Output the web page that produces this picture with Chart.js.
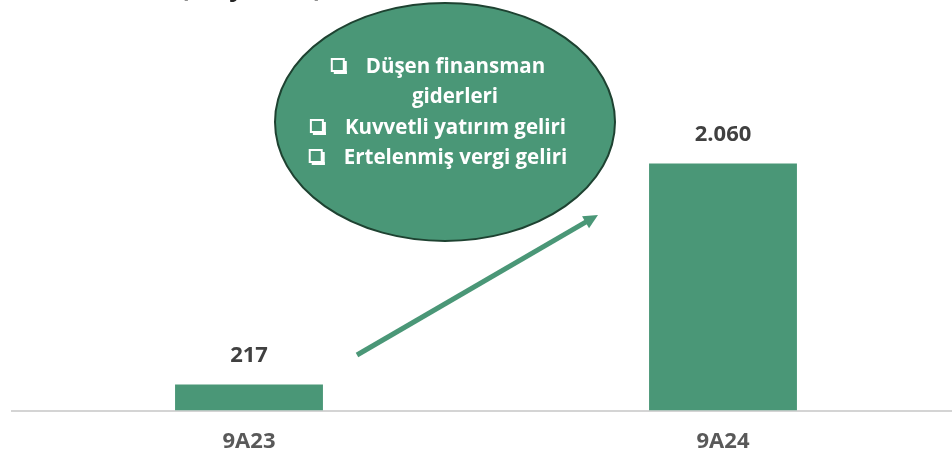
<!DOCTYPE html>
<html>
<head>
<meta charset="utf-8">
<script src="https://cdn.jsdelivr.net/npm/chart.js@4.4.1/dist/chart.umd.min.js"></script>
<style>
  html, body { margin: 0; padding: 0; background: #ffffff; overflow: hidden; width: 952px; height: 465px; }
  canvas { display: block; }
</style>
</head>
<body>
<canvas id="c" width="960" height="465" style="width:960px;height:465px"></canvas>
<script>
const categories = ['9A23', '9A24'];
const netProfit = [217, 2060];
const valueLabels = ['217', '2.060'];
const titleText = '(Milyon TL)';
const bubbleLines = [
  { box: true, text: 'Düşen finansman' },
  { box: false, text: 'giderleri' },
  { box: true, text: 'Kuvvetli yatırım geliri' },
  { box: true, text: 'Ertelenmiş vergi geliri' }
];

const GREEN = '#4a9777';
const FONT = '"Open Sans", "Liberation Sans", sans-serif';

const overlay = {
  id: 'overlay',
  afterDatasetsDraw(chart) {
    const ctx = chart.ctx;
    const meta = chart.getDatasetMeta(0);
    // value labels
    ctx.save();
    ctx.fillStyle = '#404040';
    ctx.font = 'bold 22px ' + FONT;
    ctx.textAlign = 'center';
    ctx.textBaseline = 'middle';
    meta.data.forEach((bar, i) => {
      ctx.fillText(valueLabels[i], bar.x, bar.y - 29);
    });
    ctx.restore();

    // title (cut off at top)
    ctx.save();
    ctx.fillStyle = '#262626';
    ctx.font = 'bold 26px ' + FONT;
    ctx.textAlign = 'left';
    ctx.textBaseline = 'alphabetic';
    ctx.fillText(titleText, 180, -4.5);
    ctx.restore();

    // arrow
    const x1 = 357, y1 = 355, x2 = 598, y2 = 215;
    ctx.save();
    ctx.strokeStyle = GREEN;
    ctx.fillStyle = GREEN;
    ctx.lineWidth = 5;
    const ang = Math.atan2(y2 - y1, x2 - x1);
    const headLen = 16;
    const ex = x2 - headLen * 0.8 * Math.cos(ang), ey = y2 - headLen * 0.8 * Math.sin(ang);
    ctx.beginPath();
    ctx.moveTo(x1, y1);
    ctx.lineTo(ex, ey);
    ctx.stroke();
    ctx.beginPath();
    ctx.moveTo(x2, y2);
    ctx.lineTo(x2 - headLen * Math.cos(ang - 0.45), y2 - headLen * Math.sin(ang - 0.45));
    ctx.lineTo(x2 - headLen * Math.cos(ang + 0.45), y2 - headLen * Math.sin(ang + 0.45));
    ctx.closePath();
    ctx.fill();
    ctx.restore();

    // ellipse
    ctx.save();
    ctx.beginPath();
    ctx.ellipse(445, 122, 170, 119, 0, 0, Math.PI * 2);
    ctx.fillStyle = GREEN;
    ctx.fill();
    ctx.lineWidth = 2;
    ctx.strokeStyle = '#1e4231';
    ctx.stroke();
    ctx.restore();

    // ellipse text
    ctx.save();
    ctx.fillStyle = '#ffffff';
    ctx.font = 'bold 20.5px ' + FONT;
    ctx.textBaseline = 'middle';
    const ys = [67, 97, 128, 158];
    bubbleLines.forEach((ln, i) => {
      const textW = ctx.measureText(ln.text).width;
      const boxW = 16, gap = 19;
      const total = (ln.box ? boxW + gap : 0) + textW;
      let x = (ln.box ? 438 : 455) - total / 2;
      if (ln.box) {
        const by = ys[i] - 9;
        ctx.save();
        ctx.strokeStyle = '#ffffff';
        ctx.lineWidth = 2;
        ctx.strokeRect(x + 1, by + 1, 12, 12);
        ctx.fillStyle = '#ffffff';
        ctx.fillRect(x + 13, by + 3, 3, 13);
        ctx.fillRect(x + 3, by + 13, 13, 3);
        ctx.restore();
        x += boxW + gap;
      }
      ctx.textAlign = 'left';
      ctx.fillText(ln.text, x, ys[i]);
    });
    ctx.restore();
  }
};

new Chart(document.getElementById('c'), {
  type: 'bar',
  data: {
    labels: categories,
    datasets: [{
      data: netProfit,
      backgroundColor: GREEN,
      borderWidth: 0,
      categoryPercentage: 0.312,
      barPercentage: 1
    }]
  },
  options: {
    responsive: false,
    animation: false,
    devicePixelRatio: 1,
    layout: { padding: { left: 12, right: 0, top: 0, bottom: 0 } },
    plugins: { legend: { display: false }, tooltip: { enabled: false }, title: { display: false } },
    scales: {
      x: {
        grid: { display: false },
        border: { display: true, color: '#d4d4d4', width: 2, dash: [2, 1] },
        ticks: { color: '#595959', font: { family: FONT, size: 22, weight: 'bold' }, padding: 10 }
      },
      y: {
        display: false,
        min: 0,
        max: 3422,
        grid: { display: false }
      }
    }
  },
  plugins: [overlay]
});
</script>
</body>
</html>
